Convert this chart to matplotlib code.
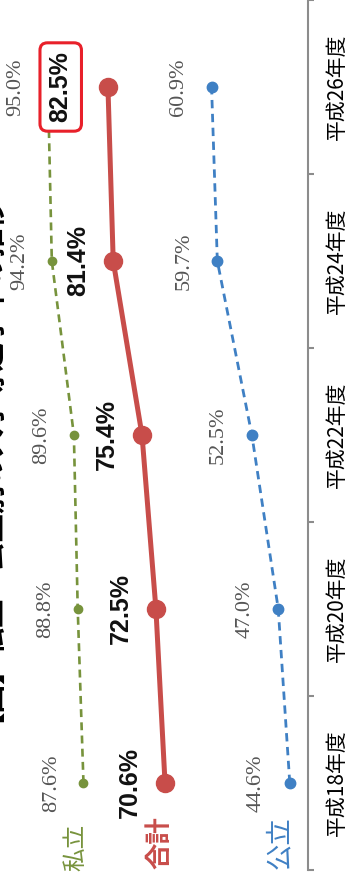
import numpy as np
import matplotlib.pyplot as plt
from matplotlib.ticker import FixedLocator

# data (rates in %, by survey year)
years = ["平成18年度", "平成20年度", "平成22年度", "平成24年度", "平成26年度"]
private = [87.6, 88.8, 89.6, 94.2, 95.0]
total = [70.6, 72.5, 75.4, 81.4, 82.5]
public = [44.6, 47.0, 52.5, 59.7, 60.9]

c_private = "#77933c"
c_total = "#c84d4a"
c_public = "#3f80c4"
c_gray = "#555555"

plt.rcParams["font.family"] = ["Noto Sans CJK JP", "DejaVu Sans"]

fig = plt.figure(figsize=(3.48, 8.84), dpi=100)
ax = fig.add_axes([0, 14 / 884, 308 / 348, 870 / 884])

pos = np.arange(len(years))

# chart is drawn turned on its side: values run right->left, years bottom->top
ax.plot(private, pos, color=c_private, lw=1.9, ls=(0, (3, 2)),
        marker="o", ms=6, zorder=3)
ax.plot(total, pos, color=c_total, lw=3.6, marker="o", ms=13, zorder=3)
ax.plot(public, pos, color=c_public, lw=2.0, ls=(0, (3, 2)),
        marker="o", ms=7.5, zorder=3)

serif = ["Liberation Serif", "Noto Sans CJK JP"]
for v, p in zip(private, pos):
    ax.annotate(f"{v:.1f}%", (v, p), xytext=(-23, 0), textcoords="offset points",
                rotation=90, ha="center", va="center", fontsize=16,
                color=c_gray, family=serif)
for v, p in zip(public, pos):
    ax.annotate(f"{v:.1f}%", (v, p), xytext=(-24, 0), textcoords="offset points",
                rotation=90, ha="center", va="center", fontsize=16,
                color=c_gray, family=serif)
for i, (v, p) in enumerate(zip(total, pos)):
    if i == len(total) - 1:
        ax.annotate(f"{v:.1f}%", (v, p), xytext=(-34, 0), textcoords="offset points",
                    rotation=90, ha="center", va="center", fontsize=18,
                    fontweight="bold", color="#111111", family="Liberation Sans",
                    bbox=dict(boxstyle="round,pad=0.35,rounding_size=0.3",
                              fc="white", ec="#e8202a", lw=2.2))
    else:
        ax.annotate(f"{v:.1f}%", (v, p), xytext=(-25, 0), textcoords="offset points",
                    rotation=90, ha="center", va="center", fontsize=18,
                    fontweight="bold", color="#111111", family="Liberation Sans")

# series names next to the first year
ax.annotate("私立", (private[0], pos[0]), xytext=(-5, -46), textcoords="offset points",
            rotation=90, ha="center", va="center", fontsize=17, color=c_private,
            family=serif)
ax.annotate("合計", (total[0], pos[0]), xytext=(-4, -43), textcoords="offset points",
            rotation=90, ha="center", va="center", fontsize=19, color=c_total,
            fontweight="bold")
ax.annotate("公立", (public[0], pos[0]), xytext=(-7, -43), textcoords="offset points",
            rotation=90, ha="center", va="center", fontsize=19, color=c_public,
            family=serif)

ax.set_xlim(105.0, 40.8)
ax.set_ylim(-0.5, len(years) - 0.5)

for s in ["top", "bottom", "left"]:
    ax.spines[s].set_visible(False)
ax.spines["right"].set_color("#8c8c8c")
ax.spines["right"].set_linewidth(1.5)
ax.xaxis.set_visible(False)
ax.yaxis.tick_right()
ax.yaxis.set_major_locator(FixedLocator(np.arange(-0.5, len(years), 1.0)))
ax.yaxis.set_major_formatter(plt.NullFormatter())
ax.yaxis.set_minor_locator(FixedLocator(pos))
ax.set_yticklabels(years, minor=True, rotation=90, va="center", fontsize=15)
ax.tick_params(axis="y", which="major", length=4.5, width=1.5, color="#8c8c8c",
               direction="out")
ax.tick_params(axis="y", which="minor", length=0, pad=13)

# title, mostly cut off at the left edge (as in the source image)
fig.text(-25 / 348, 433 / 884, "【図】私立・公立別の大学等進学率の推移",
         rotation=90, ha="center", va="center", fontsize=20.5, fontweight="bold")

fig.savefig("out.png", dpi=100)
